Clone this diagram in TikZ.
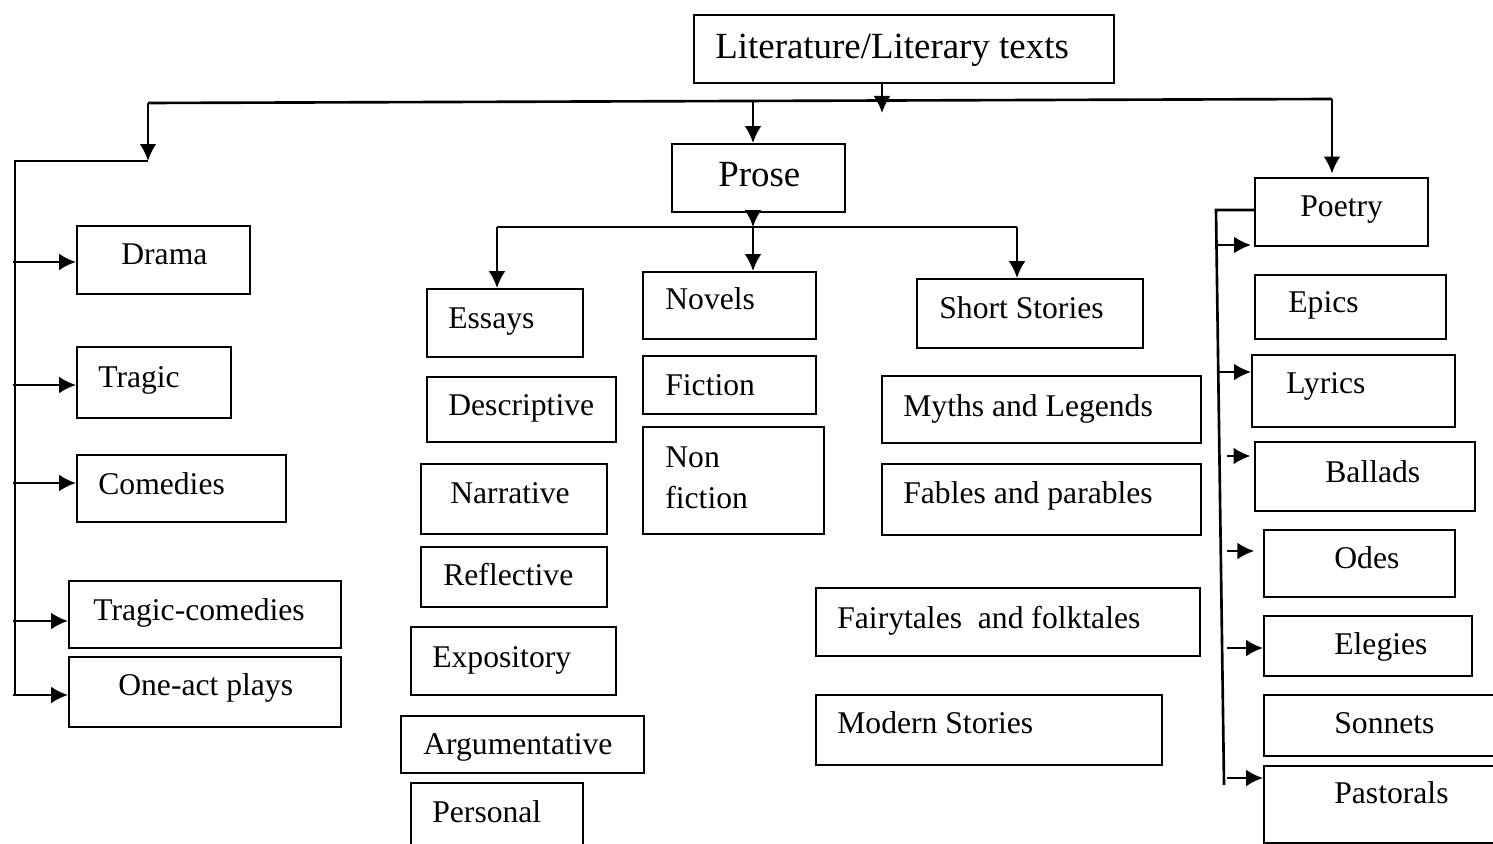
\documentclass[tikz,border=0pt]{standalone}
\usepackage{fontspec}
\setmainfont{Liberation Serif}
\usetikzlibrary{arrows.meta, positioning, fit}

\begin{document}
\begin{tikzpicture}[x=0.02cm, y=-0.02cm,
  wbox/.style={draw, line width=1.1pt, inner sep=0pt},
  lbl/.style={anchor=base west, inner sep=0pt, align=left, font=\fontsize{18}{23.2}\selectfont},
  big/.style={lbl, font=\fontsize{21}{25}\selectfont},
  link/.style={line width=1.5pt},
  >={Latex[length=3.4mm,width=3.4mm]}]
\useasboundingbox (0,0) rectangle (1493,844);

\node[wbox, fit={(694,15) (1114,83)}] (title) {};
\node[big] (title-t) at (715,59) {Literature/Literary texts};
\node[wbox, fit={(672,144) (845,212)}] (prose) {};
\node[big] (prose-t) at (718,187) {Prose};

\foreach \nm/\xa/\ya/\xb/\yb/\tx/\ty/\txt in {
  drama/77/226/250/294/121/265/Drama,
  tragic/77/347/231/418/98/387/Tragic,
  comedies/77/455/286/522/98/494/Comedies,
  tragcom/69/581/341/648/93/620/Tragic-comedies,
  oneact/69/657/341/727/118/695/One-act plays,
  essays/427/289/583/357/448/328/Essays,
  descr/427/377/616/442/448/415/Descriptive,
  narr/421/464/607/534/450/503/Narrative,
  refl/421/547/607/607/443/585/Reflective,
  expo/411/627/616/695/432/667/Expository,
  argu/401/716/644/773/423/754/Argumentative,
  pers/411/783/583/870/432/822/Personal,
  novels/643/272/816/339/665/310/Novels,
  fiction/643/356/816/414/665/395/Fiction,
  nonfic/643/427/824/534/665/508/Non\\fiction,
  short/917/279/1143/348/939/318/Short Stories,
  myths/882/376/1201/443/903/416/Myths and Legends,
  fables/882/464/1201/535/903/503/Fables and parables,
  fairy/816/588/1200/656/837/628/Fairytales~ and folktales,
  modern/816/695/1162/765/837/733/Modern Stories,
  poetry/1255/178/1428/246/1300/217/Poetry,
  epics/1255/275/1446/339/1288/313/Epics,
  lyrics/1252/355/1455/427/1286/393/Lyrics,
  ballads/1255/442/1475/511/1325/482/Ballads,
  odes/1264/530/1455/597/1334/568/Odes,
  elegies/1264/616/1472/676/1334/654/Elegies,
  sonnets/1264/695/1520/756/1334/733/Sonnets,
  pastorals/1264/766/1520/843/1334/803/Pastorals}{
  \node[wbox, fit={(\xa,\ya) (\xb,\yb)}] (\nm) {};
  \node[lbl] (\nm-t) at (\tx,\ty) {\txt};
}

\coordinate (tl) at (148,103);
\coordinate (tr) at (1332,99);
\coordinate (tarr) at (882,113);
\draw[link] (tl) -- (tr);
\draw[link,->] (tarr |- title.south) -- (tarr);

\coordinate (lc) at (148,161);
\coordinate (lv) at (15,161);
\coordinate (lb) at (15,695);
\draw[link,->] (tl) -- (lc);
\draw[link] (lc) -- (lv) -- (lb);
\foreach \nm/\yy in {drama/262,tragic/385,comedies/483,tragcom/621,oneact/695}{
  \coordinate (l-\nm) at (13,\yy);
  \draw[link,->] (l-\nm) -- (l-\nm -| \nm.west);
}

\coordinate (pa) at (753,101);
\coordinate (pb) at (753,227);
\coordinate (pl) at (497,227);
\coordinate (pr) at (1017,227);
\draw[link,->] (pa) -- (pa |- prose.north);
\draw[link,->] (pb |- prose.south) -- (pb);
\draw[link] (pl) -- (pr);
\draw[link,->] (pl) -- (pl |- essays.north);
\draw[link,->] (pb) -- (pb |- novels.north);
\draw[link,->] (pr) -- (pr |- short.north);

\draw[link,->] (tr) -- ([yshift=2pt]tr |- poetry.north);
\coordinate (pv1) at (1216,210);
\coordinate (pv2) at (1224,785);
\draw[link] (poetry.west |- pv1) -- (pv1) -- (pv2);
\coordinate (q1) at (1216,245);
\coordinate (q2) at (1217,372);
\coordinate (q3) at (1227,456);
\coordinate (q4) at (1227,551);
\coordinate (q5) at (1227,648);
\coordinate (q6) at (1227,778);
\draw[link,->] (q1) -- (q1 -| lyrics.west);
\draw[link,->] (q2) -- (q2 -| lyrics.west);
\draw[link,->] (q3) -- ([xshift=-2pt]q3 -| ballads.west);
\draw[link,->] (q4) -- ([xshift=-5pt]q4 -| odes.west);
\draw[link,->] (q5) -- (q5 -| elegies.west);
\draw[link,->] (q6) -- (q6 -| pastorals.west);
\end{tikzpicture}
\end{document}
